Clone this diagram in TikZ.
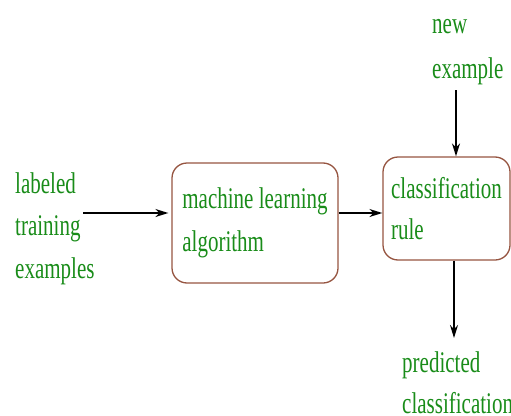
\documentclass[tikz,border=0pt]{standalone}
\usepackage{fontspec}
\setmainfont[FakeStretch=0.7]{Liberation Serif}
\usetikzlibrary{arrows.meta,calc}
\definecolor{txtgreen}{RGB}{25,140,25}
\definecolor{boxbrown}{RGB}{150,85,65}
\begin{document}
\begin{tikzpicture}[x=1pt,y=-1pt,
  lbl/.style={text=txtgreen, align=left, inner sep=0pt, anchor=base west},
  box/.style={draw=boxbrown, line width=1.3pt, rounded corners=15pt, text=txtgreen, align=left},
  arr/.style={-{Stealth[length=13pt,width=8pt]}, line width=1.4pt, black}]
\useasboundingbox (0,0) rectangle (511,415);
% labels (base anchor = last line's baseline)
\node[lbl, font=\fontsize{30}{42.5}\selectfont] (lab) at (15,278) {labeled\\training\\examples};
\node[lbl, font=\fontsize{30}{45}\selectfont] (new) at (432,78) {new\\example};
\node[lbl, font=\fontsize{30}{41}\selectfont] (pred) at (402,413) {predicted\\classification};
% boxes
\node[box, font=\fontsize{30}{43}\selectfont, minimum width=166pt, minimum height=120pt] (alg) at (255,223) {machine learning\\algorithm};
\node[box, font=\fontsize{30}{41}\selectfont, minimum width=127pt, minimum height=103pt] (rule) at (446.5,208.5) {classification\\rule};
% connectors
\coordinate (a1s) at (83,213);
\coordinate (a3s) at (456,90);
\coordinate (a4e) at (454,338);
\draw[arr, shorten >=3pt] (a1s) -- (a1s -| alg.west);
\draw[arr] (alg.east |- a1s) -- (rule.west |- a1s);
\draw[arr] (a3s) -- (a3s |- rule.north);
\draw[arr] (rule.south -| a4e) -- (a4e);
\end{tikzpicture}
\end{document}
